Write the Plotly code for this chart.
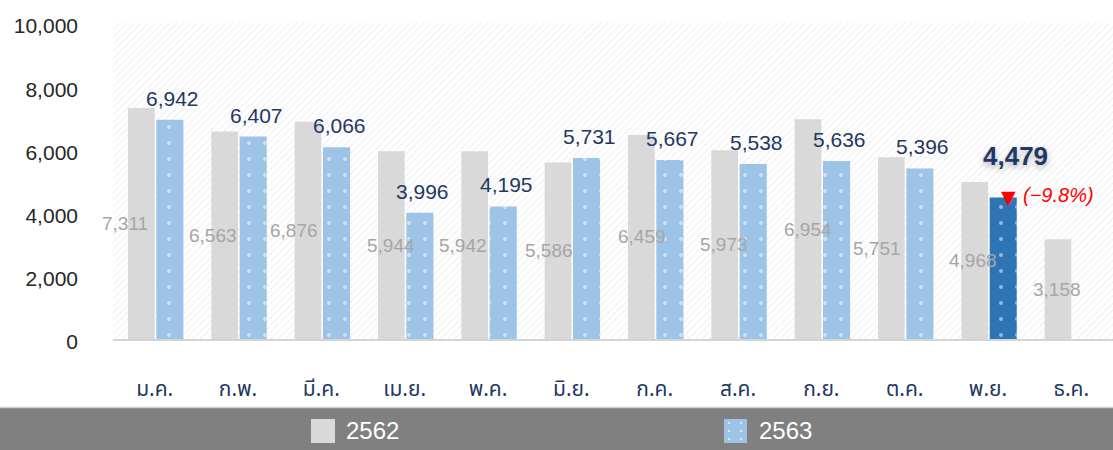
import plotly.graph_objects as go

# ---------------- data ----------------
months = ["ม.ค.", "ก.พ.", "มี.ค.", "เม.ย.", "พ.ค.", "มิ.ย.",
          "ก.ค.", "ส.ค.", "ก.ย.", "ต.ค.", "พ.ย.", "ธ.ค."]
y2562 = [7311, 6563, 6876, 5944, 5942, 5586, 6459, 5973, 6954, 5751, 4968, 3158]
y2563 = [6942, 6407, 6066, 3996, 4195, 5731, 5667, 5538, 5636, 5396, 4479, None]
series_names = ["2562", "2563"]
y_ticks = [0, 2000, 4000, 6000, 8000, 10000]
highlight_month = "พ.ย."
highlight_change = -9.8  # percent vs previous year

# ---------------- styling / layout geometry ----------------
W, H = 1113, 450
L, R, T, B = 113, 0, 23, 111
PW, PH = W - L - R, H - T - B

# horizontal nudges (px) of the 2562 value labels, as placed in the original
gray_label_dx = [-3.5, 1.5, -1, 13, 2, 4, 14, 13, 13, -1, 12, 12]

def px(x):
    return (x - L) / PW

def py(y):
    return (H - B - y) / PH

GRAY = "#d9d9d9"
BLUE = "#9dc3e6"
BLUE_DARK = "#2e75b6"
NAVY = "#1f3864"
FONT = "Liberation Sans, Arial, Noto Sans, sans-serif"

hi = months.index(highlight_month)
blue_colors = [BLUE_DARK if i == hi else BLUE for i in range(len(months))]

G_OFF, G_W = -0.32, 0.32
B_OFF, B_W = 0.02, 0.325

fig = go.Figure()

# hatched plot background
fig.add_trace(go.Bar(
    x=months, y=[y_ticks[-1]] * len(months), width=1, offset=-0.5,
    marker=dict(color="white", line_width=0,
                pattern=dict(shape="/", fgcolor="#e2e2e2", size=5, solidity=0.25)),
    hoverinfo="skip", showlegend=False,
))

fig.add_trace(go.Bar(
    name=series_names[0], x=months, y=y2562, width=G_W, offset=G_OFF,
    marker=dict(color=GRAY, line_width=0), showlegend=False,
))
fig.add_trace(go.Bar(
    name=series_names[1], x=months, y=y2563, width=B_W, offset=B_OFF,
    marker=dict(color=blue_colors, line_width=0),
    showlegend=False,
))
# white dot texture over the 2563 bars
fig.add_trace(go.Bar(
    x=months, y=y2563, width=B_W, offset=B_OFF,
    marker=dict(color="rgba(0,0,0,0)", line_width=0,
                pattern=dict(shape=".", fgcolor="#ffffff", fillmode="overlay",
                             size=16, solidity=0.05)),
    hoverinfo="skip", showlegend=False,
))

annotations = []
# gray value labels (mid-height, around left edge of gray bar)
for i, v in enumerate(y2562):
    if v is None:
        continue
    annotations.append(dict(
        x=i + G_OFF, y=v / 2, xref="x", yref="y", text=f"{v:,}",
        showarrow=False, xanchor="center", yanchor="middle", xshift=gray_label_dx[i],
        font=dict(family=FONT, size=19, color="#a6a6a6"),
    ))
# blue value labels (above bars)
for i, v in enumerate(y2563):
    if v is None:
        continue
    if i == hi:
        annotations.append(dict(
            x=i + B_OFF + B_W / 2, y=v, xref="x", yref="y", text=f"<b>{v:,}</b>",
            showarrow=False, xanchor="center", yanchor="bottom", xshift=12, yshift=24,
            font=dict(family=FONT, size=26, color=NAVY,
                      shadow="0px 3px 6px rgba(0,0,0,0.28)"),
        ))
        annotations.append(dict(
            x=i + B_OFF + B_W / 2, y=v, xref="x", yref="y", text="▼",
            showarrow=False, xanchor="center", yanchor="middle", xshift=5, yshift=0,
            font=dict(family="DejaVu Sans", size=19, color="#ff0000"),
        ))
        pct = f"({highlight_change:.1f}%)".replace("-", "−")
        annotations.append(dict(
            x=i + B_OFF + B_W / 2, y=v, xref="x", yref="y", text=f"<i>{pct}</i>",
            showarrow=False, xanchor="left", yanchor="middle", xshift=18, yshift=2,
            font=dict(family=FONT, size=20, color="#ff0000"),
        ))
    else:
        annotations.append(dict(
            x=i + B_OFF + B_W / 2, y=v, xref="x", yref="y", text=f"{v:,}",
            showarrow=False, xanchor="center", yanchor="bottom", xshift=3, yshift=8,
            font=dict(family=FONT, size=21, color=NAVY),
        ))

# legend band (drawn manually)
shapes = [
    dict(type="rect", xref="paper", yref="paper", x0=px(0), x1=px(W), y0=py(450), y1=py(408),
         fillcolor="#808080", line_width=0, layer="above"),
    dict(type="line", xref="paper", yref="paper", x0=px(0), x1=px(W), y0=py(407.5), y1=py(407.5),
         line=dict(color="#cfcfcf", width=1.5), layer="above"),
    dict(type="rect", xref="paper", yref="paper", x0=px(311), x1=px(335), y0=py(443), y1=py(419),
         fillcolor=GRAY, line_width=0, layer="above"),
    dict(type="rect", xref="paper", yref="paper", x0=px(724), x1=px(747), y0=py(443), y1=py(419),
         fillcolor=BLUE, line_width=0, layer="above"),
]
for dx in (729, 741):
    for dy in (423, 431, 439):
        shapes.append(dict(type="circle", xref="paper", yref="paper",
                           x0=px(dx - 0.9), x1=px(dx + 0.9), y0=py(dy + 0.9), y1=py(dy - 0.9),
                           fillcolor="white", line_width=0, layer="above"))
for name, xl in zip(series_names, (344, 757)):
    annotations.append(dict(
        x=px(xl), y=py(430), xref="paper", yref="paper", text=name, showarrow=False,
        xanchor="left", yanchor="middle",
        font=dict(family=FONT, size=24, color="white"),
    ))

fig.update_layout(
    width=W, height=H,
    margin=dict(l=L, r=R, t=T, b=B, pad=0),
    barmode="overlay",
    paper_bgcolor="white", plot_bgcolor="white",
    showlegend=False,
    hovermode=False,
    annotations=annotations,
    shapes=shapes,
    font=dict(family=FONT),
)
fig.update_xaxes(
    type="category", range=[-0.5, len(months) - 0.5],
    showgrid=False, zeroline=False, ticks="",
    showline=True, linecolor="#d4d4d4", linewidth=2,
    tickfont=dict(family="Noto Sans Thai, Noto Sans, Liberation Sans, sans-serif", size=21, color=NAVY),
    ticklabelstandoff=30,
)
fig.update_yaxes(
    range=[0, y_ticks[-1]], tickvals=y_ticks, tickformat=",",
    showgrid=False, zeroline=False, showline=False, ticks="",
    tickfont=dict(family=FONT, size=21, color="#262626"),
    ticklabelstandoff=34, ticklabelshift=3,
)

fig.write_html(
    "out.html",
    config={"displayModeBar": False, "staticPlot": True},
    post_script="document.body.style.margin='0';document.body.style.overflow='hidden';",
)
